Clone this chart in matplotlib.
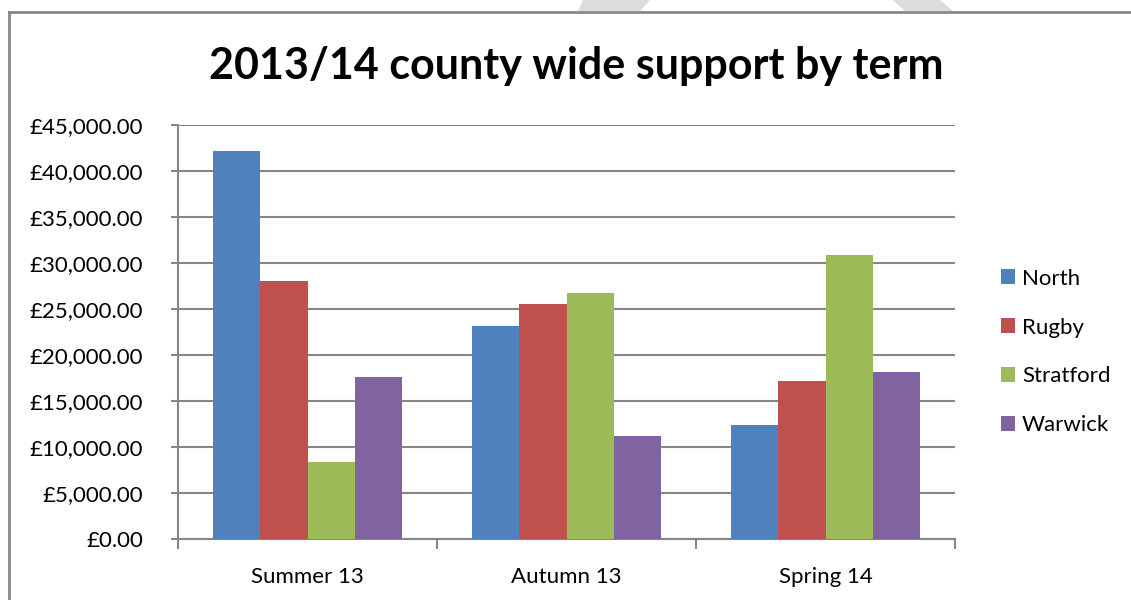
import numpy as np
import matplotlib.pyplot as plt
from matplotlib.lines import Line2D
from matplotlib.patches import Polygon
from matplotlib.ticker import FuncFormatter, FixedLocator

# Datos por término y zona
terminos = ['Summer 13', 'Autumn 13', 'Spring 14']
zonas = ['North', 'Rugby', 'Stratford', 'Warwick']
north = [42200, 23170, 12410]
rugby = [28090, 25560, 17160]
stratford = [8430, 26720, 30880]
warwick = [17630, 11250, 18140]
colores = ['#4F81BD', '#C0504D', '#9BBB59', '#8064A2']

plt.rcParams['font.family'] = ['Lato', 'DejaVu Sans']

fig = plt.figure(figsize=(11.31, 6), dpi=100)
ax = fig.add_axes([178 / 1131, 1 - 539.3 / 600, (955 - 178) / 1131, (539.3 - 125) / 600])

series = [north, rugby, stratford, warwick]
x = np.arange(len(terminos))
ancho = 1 / 5.5
for i, (nombre, valores) in enumerate(zip(zonas, series)):
    ax.bar(x + (i - 1.5) * ancho, valores, ancho, color=colores[i], label=nombre, zorder=3)

ax.set_xlim(-0.5, len(terminos) - 0.5)
ax.set_ylim(0, 45000)
ax.set_yticks(np.arange(0, 45001, 5000))
ax.yaxis.set_major_formatter(FuncFormatter(lambda v, p: '£{:,.2f}'.format(v)))

# Marcas en los límites de cada categoría, etiquetas en el centro
ax.xaxis.set_major_locator(FixedLocator(np.arange(-0.5, len(terminos), 1.0)))
ax.xaxis.set_minor_locator(FixedLocator(x))
ax.set_xticklabels([])
ax.set_xticklabels(terminos, minor=True)
ax.tick_params(axis='x', which='minor', length=0, pad=20, labelsize=16)
ax.tick_params(axis='x', which='major', length=7, width=1.5, color='#868686')
ax.tick_params(axis='y', length=5, width=1.5, color='#868686', pad=20, labelsize=16)

ax.grid(axis='y', color='#868686', linewidth=1.5, zorder=0)
for lado in ['top', 'right']:
    ax.spines[lado].set_visible(False)
for lado in ['left', 'bottom']:
    ax.spines[lado].set_color('#868686')
    ax.spines[lado].set_linewidth(1.5)

fig.text(576 / 1131, 1 - 66 / 600, '2013/14 county wide support by term',
         ha='center', va='center', fontsize=31, fontweight='bold')

fig.legend(loc='center left', bbox_to_anchor=(981 / 1131, 1 - 352 / 600),
           frameon=False, fontsize=16, handlelength=0.65, handleheight=0.65,
           handletextpad=0.3, labelspacing=1.3)

# Marco exterior del gráfico
fig.add_artist(Line2D([9, 9], [0, 588], transform=None, color='#888888', linewidth=2))
fig.add_artist(Line2D([9, 1131], [588, 588], transform=None, color='#888888', linewidth=2))
# Trazos grises del fondo por encima del marco
fig.add_artist(Polygon([(583, 600), (650, 600), (640, 589), (578, 589)], closed=True,
                       transform=None, facecolor='#dcdcdc', edgecolor='none'))
fig.add_artist(Polygon([(893, 600), (940, 600), (953, 589), (905, 589)], closed=True,
                       transform=None, facecolor='#dcdcdc', edgecolor='none'))

fig.savefig('out.png', dpi=100)
